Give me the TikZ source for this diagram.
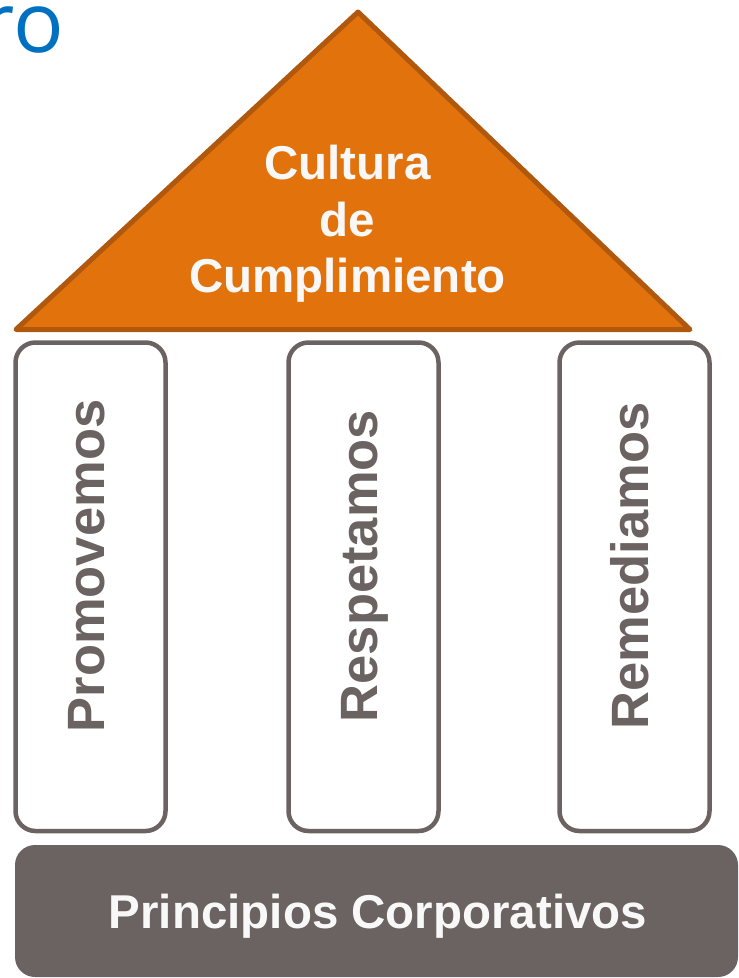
\documentclass[tikz,border=0pt]{standalone}
\usepackage{fontspec}
\setmainfont{Liberation Sans}
\newfontfamily\titlefont{Open Sans}
\definecolor{roofor}{HTML}{E2720B}
\definecolor{roofedge}{HTML}{B0580E}
\definecolor{stone}{HTML}{6B6361}
\definecolor{chalk}{HTML}{F8F8F8}
\definecolor{titleblue}{HTML}{0070C0}
\tikzset{
  pillar/.style={draw=stone, line width=4.5pt, rounded corners=20pt, fill=white,
    minimum width=150pt, minimum height=488.5pt, inner sep=0pt},
  pillartext/.style={rotate=90, anchor=base, inner sep=0pt, text=stone,
    font=\fontsize{52.5}{60}\selectfont\bfseries},
}
\begin{document}
\begin{tikzpicture}[x=1pt, y=-1pt]
\useasboundingbox (0,0) rectangle (739,978);

% Title fragment
\node[anchor=base east, inner sep=0pt, text=titleblue, font=\fontsize{84}{90}\selectfont\titlefont] (title) at (64,52) {ro};

% Roof
\draw[fill=roofor, draw=roofedge, line width=5pt, line join=round] (16,329.5) -- (358,12) -- (690,329.5) -- cycle;
\node[anchor=north, inner sep=0pt, align=center, text=chalk, font=\fontsize{47.5}{56.5}\selectfont\bfseries] (roof) at (347.5,145) {Cultura\\de\\Cumplimiento};

% Pillars
\foreach \x/\name/\word in {90.5/prom/Promovemos, 363.5/resp/Respetamos, 634.5/reme/Remediamos} {
    \node[pillar] (\name) at (\x,586.75) {};
    \node[pillartext] (\name text) at (\x+13.5,566) {\word};
}

% Base
\fill[stone, rounded corners=20pt] (15,845) rectangle (738,977);
\node[anchor=base, inner sep=0pt, text=chalk, font=\fontsize{47.5}{56.5}\selectfont\bfseries] (base) at (378,928) {Principios Corporativos};

\end{tikzpicture}
\end{document}
